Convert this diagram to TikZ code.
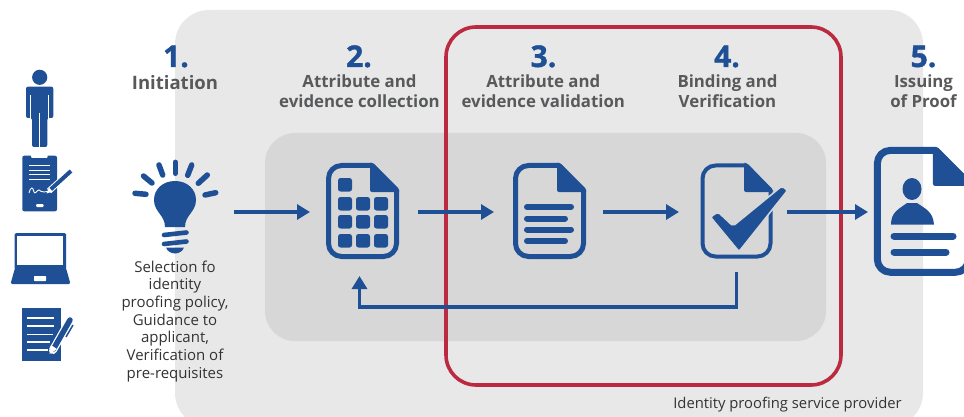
\documentclass[tikz,border=0pt]{standalone}
\usepackage{fontspec}
\setmainfont{Open Sans}
\newfontfamily\numfont[BoldFeatures={FakeBold=1.2}]{Open Sans}
\usetikzlibrary{arrows.meta}
\definecolor{bluemain}{HTML}{1F5096}
\definecolor{panelA}{HTML}{E8E8E8}
\definecolor{panelB}{HTML}{D7D7D7}
\definecolor{redframe}{HTML}{BC2A41}
\definecolor{headgrey}{HTML}{58595B}
\definecolor{bodygrey}{HTML}{333333}
\tikzset{
  flow/.style={draw=bluemain,line width=3.2pt,-{Triangle[length=13pt,width=15pt]}},
  iconbox/.style={minimum width=#1,minimum height=96pt,inner sep=0pt,outer sep=0pt},
  numtext/.style={anchor=base,text=bluemain,font=\fontsize{30}{30}\numfont\bfseries},
  headtext/.style={anchor=center,align=center,text=headgrey,font=\fontsize{16.8}{20}\selectfont\bfseries,inner sep=0pt},
  bodytext/.style={align=center,text=bodygrey,font=\fontsize{15}{17.7}\selectfont,inner sep=0pt},
  ink/.style={fill=bluemain,draw=none},
  knock/.style={draw=white,line width=1.2pt},
  ray/.style={draw=bluemain,line width=5.5pt,line cap=round},
  gridcell/.style={fill=bluemain,draw=none,rounded corners=2.5pt},
  textbar/.style={draw=bluemain,line width=6pt,line cap=round},
}
% document outline with folded corner, local size 73 x 96: #1 line width, #2 corner radius
\newcommand{\docshape}[2]{%
  \draw[bluemain,line width=#1,line join=round,rounded corners=#2]
    (30,2.5) -- (2.5,2.5) -- (2.5,93.5) -- (70.5,93.5) -- (70.5,50);
  \draw[bluemain,line width=#1,line join=round]
    (30,2.5) -- (46,2.5) -- (70.5,27) -- (70.5,50);
  \fill[bluemain,rounded corners=2pt] (44,1) -- (44,29) -- (73,29) -- (73,27) -- (47,0) -- (44,0) -- cycle;
}
\begin{document}
\begin{tikzpicture}[x=1pt,y=-1pt]
\useasboundingbox (0,0) rectangle (964,417);
\clip (0,0) rectangle (964,417);
% panels
\fill[panelA,rounded corners=34pt] (175,10) rectangle (923,427);
\fill[panelB,rounded corners=30pt] (265,133) rectangle (826,341);
\draw[redframe,line width=3.6pt,rounded corners=30pt] (446,27) rectangle (841,385);

% person
\fill[bluemain] (39.7,77.3) circle (7.6);
\fill[bluemain,rounded corners=2pt] (26,86.7) -- (53.3,86.7) -- (53.3,118) -- (47.3,118) -- (47.3,147) -- (32,147) -- (32,118) -- (26,118) -- cycle;
\draw[knock] (30.6,95) -- (30.6,119);
\draw[knock] (48.8,95) -- (48.8,119);
\draw[knock] (39.7,113) -- (39.7,148);
% tablet
\fill[bluemain,rounded corners=2pt] (22.3,155.7) rectangle (57,211.3);
\fill[white,rounded corners=1pt] (31,154) rectangle (47.5,158);
\foreach \yy in {166,171,174.5,179}{\draw[white,line width=1pt] (29,\yy) -- (50,\yy);}
\draw[white,line width=.9pt] (29,193) .. controls (31,186) and (33,187) .. (34,192) .. controls (35,195) and (37,190) .. (39,190) .. controls (41,190) and (41,193) .. (44,192) -- (50,191);
\fill[white,rounded corners=1pt] (36,204) rectangle (43.5,207);
\draw[white,line width=6pt] (49,191) -- (71,171);
\draw[bluemain,line width=4pt] (49.5,190.5) -- (71,171);
\fill[white] (46.5,193.5) -- (49,187.5) -- (52.5,191.5) -- cycle;
% laptop
\fill[bluemain,rounded corners=1.5pt] (14.7,233) rectangle (66,270);
\fill[white] (17.3,236) rectangle (63.3,265);
\fill[bluemain,rounded corners=1.5pt] (15,268) -- (66,268) -- (70.5,284) -- (10.5,284) -- cycle;
\fill[white,rounded corners=.7pt] (34,276) rectangle (46,281);
% notepad
\fill[bluemain] (21.7,308) rectangle (61,361);
\foreach \yy/\xe in {318/54,326/54,334.5/53,342/50,350/48}{\draw[white,line width=1.1pt] (27,\yy) -- (\xe,\yy);}
\draw[white,line width=8pt,line cap=round] (53,350) -- (70,320);
\draw[bluemain,line width=5.5pt,line cap=round] (53.5,349) -- (70,320);
\fill[white] (49.5,354) -- (51,345) -- (57,349) -- cycle;
\draw[bluemain,line width=1.5pt] (66,337) -- (73,325);

% step numbers
\node[numtext] (n1) at (176,67) {1.};
\node[numtext] (n2) at (359,67) {2.};
\node[numtext] (n3) at (543.5,67) {3.};
\node[numtext] (n4) at (727,67) {4.};
\node[numtext] (n5) at (923.5,67) {5.};
% headings
\node[headtext,font=\fontsize{18.5}{20}\selectfont\bfseries] (h1) at (175,83) {Initiation};
\node[headtext] (h2) at (359.5,91.5) {Attribute and\\evidence collection};
\node[headtext] (h3) at (543.3,91.5) {Attribute and\\evidence validation};
\node[headtext] (h4) at (727.5,91.5) {Binding and\\Verification};
\node[headtext] (h5) at (923.5,91.5) {Issuing\\of Proof};

% bulb
\node[iconbox=84pt] (bulb) at (175,212) {};
\draw[ray] (135,193.3) -- (146,194.3);
\draw[ray] (143.5,176) -- (152,183);
\draw[ray] (159,165) -- (162.7,175);
\draw[ray] (175.3,162.3) -- (175.3,173.3);
\draw[ray] (191.7,165) -- (187.7,175.3);
\draw[ray] (207.3,175) -- (198.3,183.3);
\draw[ray] (215.7,192.7) -- (205,195);
\fill[bluemain] (165,227) .. controls (165,215) and (154,212) .. (154,200) .. controls (154,189) and (163,181) .. (175,181) .. controls (187,181) and (196,189) .. (196,200) .. controls (196,212) and (185,215) .. (185,227) -- cycle;
\draw[bluemain,line width=4.6pt,line cap=round] (164,235) -- (186.5,232.5);
\draw[bluemain,line width=4.6pt,line cap=round] (164,244) -- (186.5,241.5);
\fill[bluemain] (166,247.5) -- (184,247.5) .. controls (183,251) and (179,253.5) .. (175,253.5) .. controls (171,253.5) and (167,251) .. (166,247.5) -- cycle;
\node[bodytext,anchor=north] (intro) at (175,260.5) {Selection fo\\identity\\proofing policy,\\Guidance to\\applicant,\\Verification of\\pre-requisites};

% document nodes
\node[iconbox=73pt] (collect) at (362.5,212) {};
\node[iconbox=73pt] (validate) at (549.5,212) {};
\node[iconbox=73pt] (bind) at (736.5,212) {};
\node[iconbox=90pt,minimum height=129pt] (issue) at (919,212) {};

% collect icon
\begin{scope}[shift={(326,163)}]
  \docshape{5pt}{13pt}
  \foreach \cx/\cy in {12/15, 12/34,30/34,48/34, 12/52,30/52,48/52, 12/71,30/71,48/71}{
    \fill[gridcell] (\cx,\cy) rectangle ++(14,13.5);
  }
\end{scope}
% validate icon
\begin{scope}[shift={(513,163)}]
  \docshape{5pt}{13pt}
  \draw[textbar] (14,44) -- (58,44);
  \draw[textbar] (14,55.5) -- (52,55.5);
  \draw[textbar] (14,66.5) -- (58,66.5);
  \draw[textbar] (14,78) -- (52,78);
\end{scope}
% bind icon
\begin{scope}[shift={(700,163)}]
  \docshape{4pt}{13pt}
\end{scope}
\filldraw[fill=bluemain,draw=panelB,line width=1.5pt,rounded corners=2pt] (710.5,217) -- (718,212) -- (733,226) -- (782,186) -- (787.5,190.5) -- (739,251.5) -- cycle;
% issue icon
\begin{scope}[shift={(874,147)},scale=1.34]
  \docshape{7pt}{13pt}
\end{scope}
\fill[bluemain] (912,189) ellipse (9.5 and 11);
\fill[bluemain] (891,224.5) .. controls (891,212) and (899,209) .. (907,203) -- (917,203) .. controls (926,209) and (933,212) .. (934,224.5) -- cycle;
\draw[bluemain,line width=7pt,line cap=round] (894,236) -- (953,236);
\draw[bluemain,line width=7pt,line cap=round] (894,252) -- (946,252);

% connectors
\draw[flow,shorten <=17pt,shorten >=16pt] (bulb.east) -- (collect.west);
\draw[flow,shorten <=19pt,shorten >=19pt] (collect.east) -- (validate.west);
\draw[flow,shorten <=17pt,shorten >=21pt] (validate.east) -- (bind.west);
\draw[flow,shorten <=14pt,shorten >=6pt] (bind.east) -- (issue.west);
\coordinate (fbrow) at (0,307);
\coordinate (fbin) at ([xshift=-3pt]collect.south);
\draw[flow,line join=miter,shorten <=12pt,shorten >=16pt] (bind.south) -- (bind.south |- fbrow) -- (fbin |- fbrow) -- (fbin);

% provider label
\node[bodytext,anchor=base,font=\fontsize{14.8}{17.7}\selectfont] (provider) at (787.5,408.5) {Identity proofing service provider};
\end{tikzpicture}
\end{document}
